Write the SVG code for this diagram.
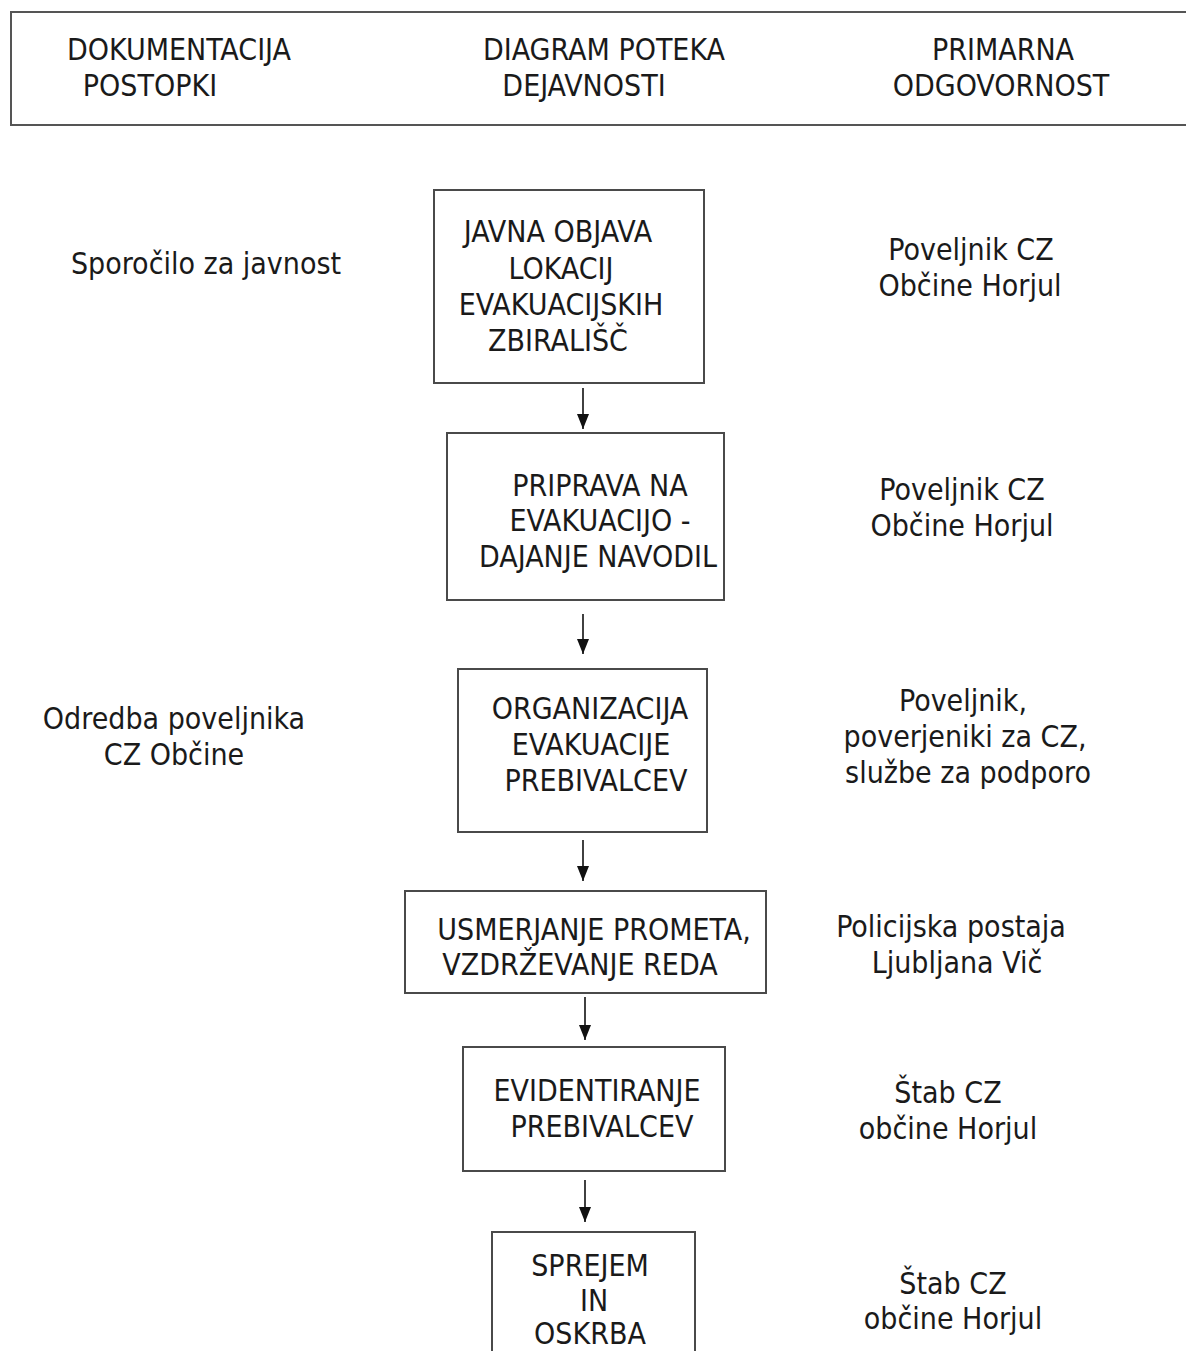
<svg xmlns="http://www.w3.org/2000/svg" width="1186" height="1351" viewBox="0 0 1186 1351">
<defs>
<style>
text{font-family:"DejaVu Sans Condensed","DejaVu Sans",sans-serif;font-stretch:condensed;font-size:30px;fill:#1a1a1a;text-anchor:middle}
.box{fill:#fff;stroke:#4a4a4a;stroke-width:2}
.hdr{fill:#fff;stroke:#555;stroke-width:2}
.conn{stroke:#111;stroke-width:1.6;fill:none;marker-end:url(#ah)}
</style>
<marker id="ah" viewBox="0 0 15 12" refX="15" refY="6" markerWidth="15" markerHeight="12" markerUnits="userSpaceOnUse" orient="auto">
<path d="M0,0 L15,6 L0,12 Z" fill="#111"/>
</marker>
</defs>
<rect width="1186" height="1351" fill="#fff"/>
<g id="header">
<rect class="hdr" x="11" y="12" width="1180" height="113"/>
<text x="179" y="60">DOKUMENTACIJA</text>
<text x="150" y="96">POSTOPKI</text>
<text x="604" y="60">DIAGRAM POTEKA</text>
<text x="584" y="96">DEJAVNOSTI</text>
<text x="1003" y="60">PRIMARNA</text>
<text x="1001" y="96">ODGOVORNOST</text>
</g>
<g id="connectors">
<line class="conn" x1="583" y1="388" x2="583" y2="429"/>
<line class="conn" x1="583" y1="614" x2="583" y2="654"/>
<line class="conn" x1="583" y1="840" x2="583" y2="881"/>
<line class="conn" x1="585" y1="997" x2="585" y2="1040"/>
<line class="conn" x1="585" y1="1180" x2="585" y2="1222"/>
</g>
<g id="node1">
<rect class="box" x="434" y="190" width="270" height="193"/>
<text x="558" y="242">JAVNA OBJAVA</text>
<text x="561" y="279">LOKACIJ</text>
<text x="561" y="315">EVAKUACIJSKIH</text>
<text x="558" y="351">ZBIRALIŠČ</text>
</g>
<g id="node2">
<rect class="box" x="447" y="433" width="277" height="167"/>
<text x="600" y="496">PRIPRAVA NA</text>
<text x="600" y="531">EVAKUACIJO -</text>
<text x="598" y="567">DAJANJE NAVODIL</text>
</g>
<g id="node3">
<rect class="box" x="458" y="669" width="249" height="163"/>
<text x="590" y="719">ORGANIZACIJA</text>
<text x="591" y="755">EVAKUACIJE</text>
<text x="596" y="791">PREBIVALCEV</text>
</g>
<g id="node4">
<rect class="box" x="405" y="891" width="361" height="102"/>
<text x="594" y="940">USMERJANJE PROMETA,</text>
<text x="580" y="975">VZDRŽEVANJE REDA</text>
</g>
<g id="node5">
<rect class="box" x="463" y="1047" width="262" height="124"/>
<text x="597" y="1101">EVIDENTIRANJE</text>
<text x="602" y="1137">PREBIVALCEV</text>
</g>
<g id="node6">
<rect class="box" x="492" y="1232" width="203" height="130"/>
<text x="590" y="1276">SPREJEM</text>
<text x="594" y="1311">IN</text>
<text x="590" y="1344">OSKRBA</text>
</g>
<g id="doc-labels">
<text x="206" y="274">Sporočilo za javnost</text>
<text x="174" y="729">Odredba poveljnika</text>
<text x="174" y="765">CZ Občine</text>
</g>
<g id="resp-labels">
<text x="971" y="260">Poveljnik CZ</text>
<text x="970" y="296">Občine Horjul</text>
<text x="962" y="500">Poveljnik CZ</text>
<text x="962" y="536">Občine Horjul</text>
<text x="963" y="711">Poveljnik,</text>
<text x="965" y="747">poverjeniki za CZ,</text>
<text x="968" y="783">službe za podporo</text>
<text x="951" y="937">Policijska postaja</text>
<text x="957" y="973">Ljubljana Vič</text>
<text x="948" y="1103">Štab CZ</text>
<text x="948" y="1139">občine Horjul</text>
<text x="953" y="1294">Štab CZ</text>
<text x="953" y="1329">občine Horjul</text>
</g>
</svg>
